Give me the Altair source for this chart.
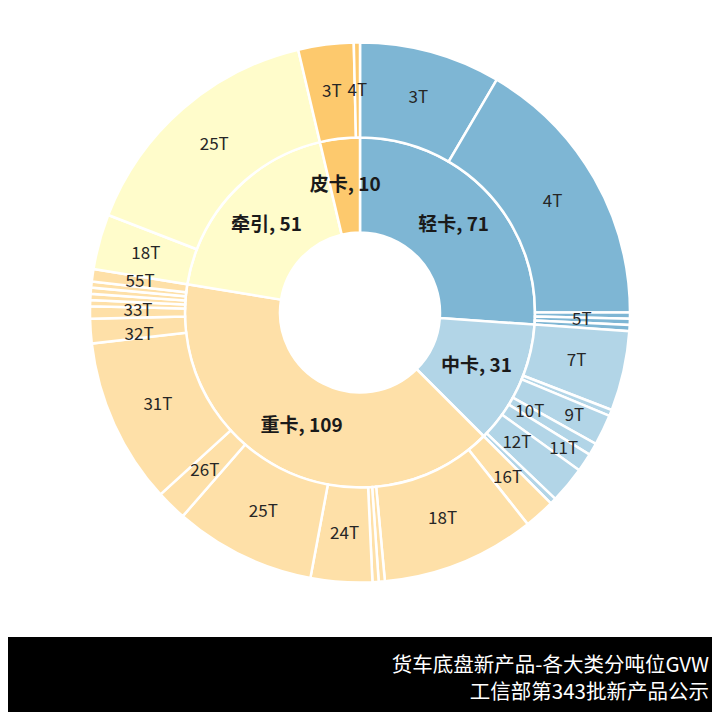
import altair as alt
import pandas as pd

# ---- data ----
CATEGORIES = ["轻卡", "中卡", "重卡", "牵引", "皮卡"]
CATEGORY_TOTALS = [71, 31, 109, 51, 10]
COLORS = ["#7EB6D4", "#B2D5E7", "#FEE0A8", "#FFFCCB", "#FDC96D"]

LIGHT_NAMES = ["3T", "4T", "4.5T", "5T", "6T"]
LIGHT_VALUES = [23, 45, 1, 1, 1]
LIGHT_SHOWN = [True, True, False, True, False]

MEDIUM_NAMES = ["7T", "8T", "9T", "10T", "11T", "12T", "14T"]
MEDIUM_VALUES = [13, 1, 5, 2, 3, 6, 1]
MEDIUM_SHOWN = [True, False, True, True, True, True, False]

HEAVY_NAMES = ["16T", "18T", "19T", "22T", "24T", "25T", "26T", "31T",
               "32T", "33T", "35T", "40T", "45T", "49T", "55T"]
HEAVY_VALUES = [5, 25, 1, 1, 10, 23, 5, 27, 4, 2, 1, 1, 1, 1, 2]
HEAVY_SHOWN = [True, True, False, False, True, True, True, True,
               True, True, False, False, False, False, True]

TRACTOR_NAMES = ["18T", "25T"]
TRACTOR_VALUES = [9, 42]
TRACTOR_SHOWN = [True, True]

PICKUP_NAMES = ["3T", "4T"]
PICKUP_VALUES = [9, 1]
PICKUP_SHOWN = [True, True]

TITLE_LINES = ["货车底盘新产品-各大类分吨位GVW", "工信部第343批新产品公示"]

# ---- layout settings ----
W, H = 704, 704
CX, CY = 352, 304.5
R_HOLE, R_MID, R_OUT = 80, 175, 270
INNER_LABEL_R = 128
OUTER_LABEL_R = 222
# label nudges for crowded outer labels (staggered like the reference):
# radial shift in px, angular shift in value units
LABEL_NUDGE_R = {("中卡", "9T"): 16, ("中卡", "10T"): -25,
                 ("中卡", "11T"): 23, ("中卡", "12T"): -18}
LABEL_NUDGE_T = {("重卡", "32T"): -1.4, ("重卡", "33T"): 0.3}
FONT = "Noto Sans CJK SC"

inner = pd.DataFrame({
    "cat": CATEGORIES,
    "value": CATEGORY_TOTALS,
    "order": list(range(len(CATEGORIES))),
})
inner["label"] = [f"{c}, {v}" for c, v in zip(CATEGORIES, CATEGORY_TOTALS)]

children = [
    (LIGHT_NAMES, LIGHT_VALUES, LIGHT_SHOWN),
    (MEDIUM_NAMES, MEDIUM_VALUES, MEDIUM_SHOWN),
    (HEAVY_NAMES, HEAVY_VALUES, HEAVY_SHOWN),
    (TRACTOR_NAMES, TRACTOR_VALUES, TRACTOR_SHOWN),
    (PICKUP_NAMES, PICKUP_VALUES, PICKUP_SHOWN),
]
rows = []
k = 0
for cat, (names, vals, shown) in zip(CATEGORIES, children):
    for n, v, s in zip(names, vals, shown):
        rows.append({"cat": cat, "name": n, "value": v, "order": k,
                     "label": n if s else "",
                     "lr": OUTER_LABEL_R + LABEL_NUDGE_R.get((cat, n), 0),
                     "dt": LABEL_NUDGE_T.get((cat, n), 0.0)})
        k += 1
outer = pd.DataFrame(rows)

color = alt.Color("cat:N", scale=alt.Scale(domain=CATEGORIES, range=COLORS), legend=None)
theta = alt.Theta("value:Q", stack=True)
order = alt.Order("order:Q", sort="ascending")
cx, cy = alt.value(CX), alt.value(CY)

inner_arcs = alt.Chart(inner).mark_arc(
    innerRadius=R_HOLE, outerRadius=R_MID, stroke="white", strokeWidth=2.5
).encode(theta=theta, color=color, order=order, x=cx, y=cy)

outer_arcs = alt.Chart(outer).mark_arc(
    innerRadius=R_MID, outerRadius=R_OUT, stroke="white", strokeWidth=2.5
).encode(theta=theta, color=color, order=order, x=cx, y=cy)

inner_text = alt.Chart(inner).mark_text(
    radius=INNER_LABEL_R, font=FONT, fontSize=19, fontWeight="bold", color="#1a1a1a"
).encode(theta=theta, order=order, text="label:N", x=cx, y=cy)

# stack explicitly so every label sits at the middle of its own slice
outer_text = alt.Chart(outer).transform_stack(
    stack="value", groupby=[], as_=["t0", "t1"],
    sort=[alt.SortField("order", order="ascending")]
).transform_calculate(
    mid="(datum.t0 + datum.t1) / 2 + datum.dt"
).transform_filter(
    "datum.label != ''"
).mark_text(
    font=FONT, fontSize=17, color="#262626"
).encode(theta=alt.Theta("mid:Q"), text="label:N",
         radius=alt.Radius("lr:Q", scale=None), x=cx, y=cy)

band_df = pd.DataFrame({"band": [1]})
band = alt.Chart(band_df).mark_rect(color="black").encode(
    x=alt.value(0), x2=alt.value(W), y=alt.value(629), y2=alt.value(H)
)
title1 = alt.Chart(band_df).mark_text(
    font=FONT, fontSize=20.5, color="white", align="right", baseline="middle"
).encode(x=alt.value(701), y=alt.value(657.5), text=alt.value(TITLE_LINES[0]))
title2 = alt.Chart(band_df).mark_text(
    font=FONT, fontSize=20.5, color="white", align="right", baseline="middle"
).encode(x=alt.value(701), y=alt.value(684.5), text=alt.value(TITLE_LINES[1]))

chart = alt.layer(
    inner_arcs, outer_arcs, inner_text, outer_text, band, title1, title2
).properties(
    width=W, height=H, padding=0, autosize=alt.AutoSizeParams(type="none"),
    background="white"
).configure_view(stroke=None)

chart.save("out.html", embed_options={"renderer": "svg", "actions": False})
